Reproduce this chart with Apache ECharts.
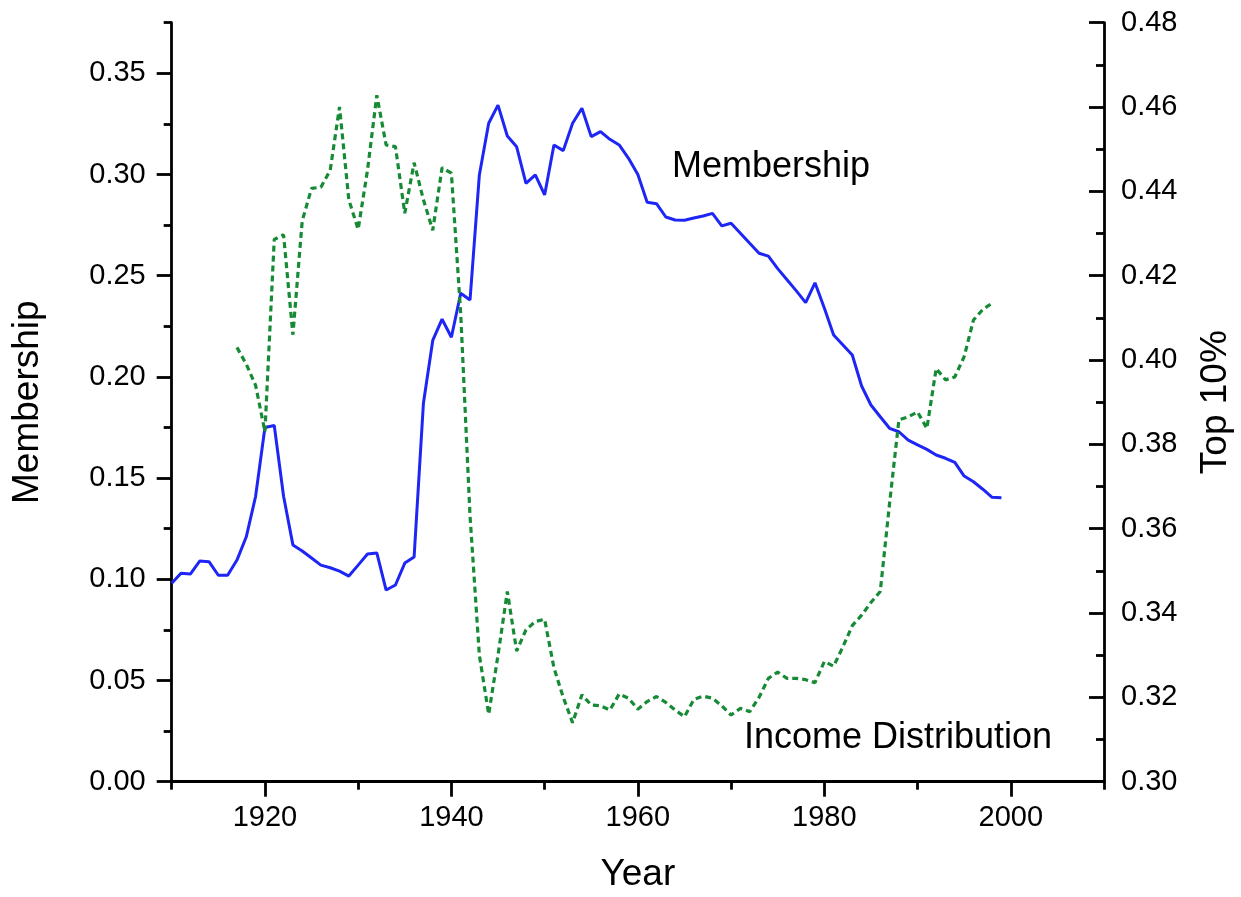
<!DOCTYPE html>
<html>
<head>
<meta charset="utf-8">
<script src="https://cdn.jsdelivr.net/npm/echarts@6/dist/echarts.min.js"></script>
<style>
  html, body { margin: 0; padding: 0; background: #fff; }
  #chart { width: 1241px; height: 897px; }
</style>
</head>
<body>
<div id="chart"></div>
<script>
// union membership share, one value per year from 1910
const membershipStart = 1910
const membership = [
  0.098, 0.103, 0.1026, 0.109, 0.1087, 0.102, 0.102, 0.1095, 0.121, 0.141,
  0.175, 0.176, 0.141, 0.117, 0.114, 0.1105, 0.107, 0.1057, 0.104, 0.1016,
  0.107, 0.1125, 0.113, 0.0947, 0.0972, 0.108, 0.111, 0.187, 0.218, 0.2285,
  0.2196, 0.2413, 0.238, 0.2998, 0.3253, 0.3343, 0.319, 0.3137, 0.2956, 0.2998,
  0.2899, 0.3146, 0.3118, 0.3253, 0.3327, 0.3187, 0.3212, 0.3174, 0.3146, 0.308,
  0.300, 0.2863, 0.2856, 0.279, 0.2775, 0.2774, 0.2785, 0.2795, 0.2808, 0.2746,
  0.2759, 0.271, 0.266, 0.2611, 0.2597, 0.2535, 0.248, 0.2425, 0.2367, 0.2465,
  0.234, 0.2207, 0.2158, 0.2108, 0.1955, 0.1861, 0.1803, 0.1746, 0.1729, 0.1688,
  0.1664, 0.1642, 0.1614, 0.1598, 0.1578, 0.151, 0.1482, 0.1445, 0.1405, 0.1403
]

// top 10% income share, one value per year from 1917
const top10Start = 1917
const top10 = [
  0.403, 0.399, 0.394,
  0.383, 0.4286, 0.4297, 0.406, 0.433, 0.4407, 0.441, 0.445, 0.460, 0.438,
  0.431, 0.445, 0.4628, 0.451, 0.4506, 0.4348, 0.4468, 0.438, 0.4308, 0.4456,
  0.4443, 0.411, 0.363, 0.330, 0.316, 0.330, 0.3451, 0.331, 0.336, 0.338,
  0.3385, 0.327, 0.320, 0.314, 0.3206, 0.3182, 0.318, 0.317, 0.3208, 0.3198,
  0.3172, 0.319, 0.3202, 0.3188, 0.317, 0.3154, 0.3195, 0.3203, 0.3198, 0.318,
  0.3158, 0.3174, 0.3166, 0.320, 0.3245, 0.326, 0.3245, 0.3245, 0.3242, 0.3235,
  0.3285, 0.3274, 0.332, 0.337, 0.3395, 0.3425, 0.3451, 0.366, 0.3858, 0.3865,
  0.3877, 0.3838, 0.398, 0.3953, 0.396, 0.4008, 0.4095, 0.412, 0.4135
]

// tick positions
const xMajor = [1920, 1940, 1960, 1980, 2000]
const xMinor = [1910, 1930, 1950, 1970, 1990, 2010]
const leftMajor = [0, 0.05, 0.10, 0.15, 0.20, 0.25, 0.30, 0.35]
const leftMinor = [0.025, 0.075, 0.125, 0.175, 0.225, 0.275, 0.325, 0.375]
const rightMajor = [0.30, 0.32, 0.34, 0.36, 0.38, 0.40, 0.42, 0.44, 0.46, 0.48]
const rightMinor = [0.31, 0.33, 0.35, 0.37, 0.39, 0.41, 0.43, 0.45, 0.47]

const FONT = '"Liberation Sans", Arial, Helvetica, sans-serif'
const BLACK = '#000'

const chart = echarts.init(document.getElementById('chart'), null, { renderer: 'canvas' })

const lineStyle = { color: BLACK, width: 2.8 }
const tickFont = { fontSize: 29, color: BLACK, fontFamily: FONT }
const nameFont = { fontSize: 37, color: BLACK, fontFamily: FONT }

const majorX = {
  type: 'value', min: 1910, max: 2010, position: 'bottom',
  axisLine: { show: true, onZero: false, lineStyle },
  axisTick: { show: true, inside: false, length: 15, lineStyle, customValues: xMajor },
  axisLabel: { show: true, customValues: xMajor, margin: 22, ...tickFont, formatter: v => String(v) },
  splitLine: { show: false },
  name: 'Year', nameLocation: 'middle', nameGap: 75,
  nameTextStyle: nameFont
}
const minorX = {
  type: 'value', min: 1910, max: 2010, position: 'bottom',
  axisLine: { show: false, onZero: false },
  axisTick: { show: true, inside: false, length: 8, lineStyle, customValues: xMinor },
  axisLabel: { show: false },
  splitLine: { show: false }
}

const leftAxis = {
  type: 'value', min: 0, max: 0.375, position: 'left',
  axisLine: { show: true, onZero: false, lineStyle },
  axisTick: { show: true, inside: false, length: 15, lineStyle, customValues: leftMajor },
  axisLabel: { show: true, customValues: leftMajor, margin: 26, ...tickFont, formatter: v => v.toFixed(2) },
  splitLine: { show: false },
  name: 'Membership', nameLocation: 'middle', nameGap: 125, nameRotate: 90,
  nameTextStyle: nameFont
}
const leftMinorAxis = {
  type: 'value', min: 0, max: 0.375, position: 'left',
  axisLine: { show: false, onZero: false },
  axisTick: { show: true, inside: false, length: 8, lineStyle, customValues: leftMinor },
  axisLabel: { show: false },
  splitLine: { show: false }
}
const rightAxis = {
  type: 'value', min: 0.30, max: 0.48, position: 'right',
  axisLine: { show: true, onZero: false, lineStyle },
  axisTick: { show: true, inside: true, length: 15, lineStyle, customValues: rightMajor },
  axisLabel: { show: true, customValues: rightMajor, margin: 17, ...tickFont, formatter: v => v.toFixed(2) },
  splitLine: { show: false },
  name: 'Top 10%', nameLocation: 'middle', nameGap: 93, nameRotate: 90,
  nameTextStyle: nameFont
}
const rightMinorAxis = {
  type: 'value', min: 0.30, max: 0.48, position: 'right',
  axisLine: { show: false, onZero: false },
  axisTick: { show: true, inside: true, length: 8, lineStyle, customValues: rightMinor },
  axisLabel: { show: false },
  splitLine: { show: false }
}

const option = {
  backgroundColor: '#fff',
  animation: false,
  grid: { left: 171.7, right: 137, top: 22.7, bottom: 115.3, containLabel: false, outerBoundsMode: 'none' },
  xAxis: [majorX, minorX],
  yAxis: [leftAxis, leftMinorAxis, rightAxis, rightMinorAxis],
  graphic: [
    {
      type: 'text', x: 672, y: 167,
      style: { text: 'Membership', font: '36px ' + FONT, fill: BLACK, align: 'left', verticalAlign: 'middle' }
    },
    {
      type: 'text', x: 744, y: 738,
      style: { text: 'Income Distribution', font: '36px ' + FONT, fill: BLACK, align: 'left', verticalAlign: 'middle' }
    }
  ],
  series: [
    {
      name: 'Membership',
      type: 'line',
      xAxisIndex: 0,
      yAxisIndex: 0,
      showSymbol: false,
      lineStyle: { color: '#1e26f5', width: 3 },
      data: membership.map((v, i) => [membershipStart + i, v])
    },
    {
      name: 'Top 10%',
      type: 'line',
      xAxisIndex: 0,
      yAxisIndex: 2,
      showSymbol: false,
      lineStyle: { color: '#168a35', width: 3.2, type: [6, 4] },
      data: top10.map((v, i) => [top10Start + i, v])
    }
  ]
}

chart.setOption(option)
</script>
</body>
</html>
